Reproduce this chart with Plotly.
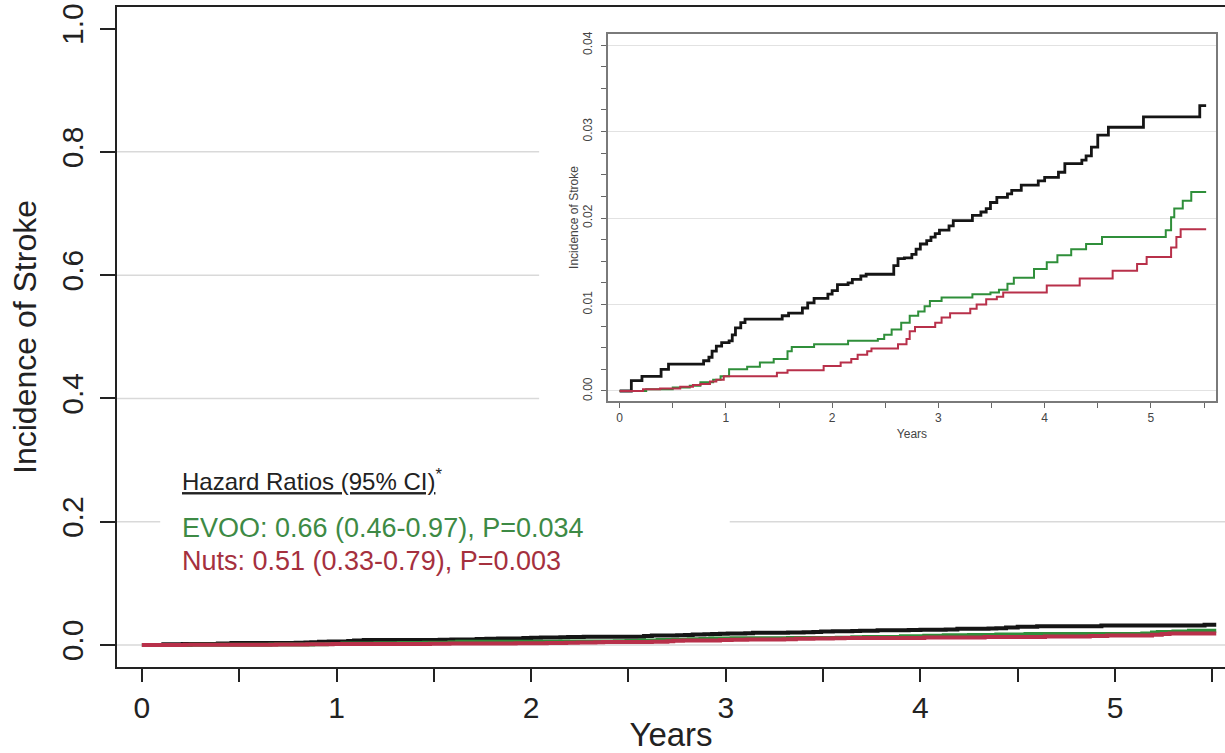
import plotly.graph_objects as go

# ---- data ----
ctrl_t = [0, 0.11, 0.21, 0.39, 0.46, 0.79, 0.84, 0.87, 0.91, 0.96, 1.03, 1.06, 1.09, 1.14, 1.18,
          1.53, 1.59, 1.72, 1.77, 1.83, 1.96, 2.00, 2.05, 2.15, 2.19, 2.27, 2.32, 2.58, 2.62, 2.68,
          2.75, 2.79, 2.83, 2.89, 2.93, 2.97, 3.01, 3.10, 3.14, 3.32, 3.40, 3.45, 3.49, 3.55, 3.65,
          3.69, 3.78, 3.94, 4.00, 4.13, 4.19, 4.35, 4.39, 4.44, 4.50, 4.60, 4.93, 5.46, 5.52]
ctrl_v = [0, 0.0012, 0.0017, 0.0025, 0.0031, 0.0035, 0.0039, 0.0046, 0.0052, 0.0056, 0.0058, 0.0065,
          0.0073, 0.0079, 0.0083, 0.0087, 0.0090, 0.0096, 0.0102, 0.0107, 0.0112, 0.0116, 0.0123,
          0.0125, 0.0129, 0.0133, 0.0135, 0.0145, 0.0153, 0.0154, 0.0158, 0.0164, 0.0170, 0.0174,
          0.0178, 0.0182, 0.0186, 0.0191, 0.0197, 0.0203, 0.0207, 0.0211, 0.0218, 0.0224, 0.0228,
          0.0232, 0.0238, 0.0243, 0.0247, 0.0253, 0.0263, 0.0267, 0.0272, 0.0282, 0.0296, 0.0305,
          0.0317, 0.0330, 0.0330]

evoo_t = [0, 0.25, 0.50, 0.66, 0.76, 0.88, 0.95, 1.03, 1.20, 1.32, 1.45, 1.58, 1.62, 1.83, 2.15,
          2.43, 2.49, 2.56, 2.65, 2.73, 2.81, 2.87, 2.92, 3.03, 3.32, 3.49, 3.57, 3.65, 3.71, 3.90,
          4.02, 4.12, 4.25, 4.39, 4.54, 5.14, 5.19, 5.22, 5.30, 5.38, 5.52]
evoo_v = [0, 0.0002, 0.0004, 0.0006, 0.0010, 0.0013, 0.0017, 0.0025, 0.0028, 0.0033, 0.0037, 0.0046,
          0.0051, 0.0054, 0.0058, 0.0060, 0.0065, 0.0071, 0.0079, 0.0087, 0.0092, 0.0098, 0.0104,
          0.0108, 0.0112, 0.0114, 0.0117, 0.0124, 0.0131, 0.0141, 0.0149, 0.0157, 0.0164, 0.0170,
          0.0178, 0.0186, 0.0201, 0.0211, 0.0220, 0.0230, 0.0230]

nuts_t = [0, 0.22, 0.38, 0.57, 0.69, 0.76, 0.85, 0.91, 0.98, 1.48, 1.58, 1.92, 2.08, 2.18, 2.24,
          2.33, 2.37, 2.62, 2.70, 2.73, 2.78, 2.97, 3.03, 3.11, 3.30, 3.36, 3.45, 3.55, 3.61, 4.02,
          4.33, 4.64, 4.87, 4.96, 5.19, 5.24, 5.28, 5.52]
nuts_v = [0, 0.0002, 0.0003, 0.0005, 0.0007, 0.0008, 0.0011, 0.0013, 0.0017, 0.0021, 0.0024, 0.0029,
          0.0033, 0.0037, 0.0042, 0.0046, 0.0049, 0.0054, 0.0060, 0.0069, 0.0074, 0.0079, 0.0085,
          0.0090, 0.0095, 0.0100, 0.0106, 0.0109, 0.0114, 0.0122, 0.0130, 0.0139, 0.0147, 0.0155,
          0.0166, 0.0178, 0.0187, 0.0187]

main_yticks = [0.0, 0.2, 0.4, 0.6, 0.8, 1.0]
main_grid = [0.0, 0.2, 0.4, 0.6, 0.8]

hr_evoo = "EVOO: 0.66 (0.46-0.97), P=0.034"
hr_nuts = "Nuts: 0.51 (0.33-0.79), P=0.003"

FONT = "Liberation Sans, Arial, Helvetica, sans-serif"
BLACK = "#151515"
GREEN = "#2f8f3a"
RED = "#b8304a"
GRID = "#d9d9d9"

fig = go.Figure()

series = [(ctrl_t, ctrl_v, BLACK), (evoo_t, evoo_v, GREEN), (nuts_t, nuts_v, RED)]

# main panel curves
for t, v, c in series:
    fig.add_trace(go.Scatter(x=t, y=v, mode="lines", line=dict(color=c, width=4, shape="hv"),
                             xaxis="x", yaxis="y", showlegend=False, hoverinfo="skip"))
# inset curves
for t, v, c in series:
    fig.add_trace(go.Scatter(x=t, y=v, mode="lines",
                             line=dict(color=c, width=2.8 if c == BLACK else 2.0, shape="hv"),
                             xaxis="x2", yaxis="y2", showlegend=False, hoverinfo="skip"))

# main-panel gridlines: hidden where the inset and the hazard-ratio block sit
grid_shapes = []
for g in main_grid:
    if g == 0.0:
        spans = [(0.0, 1.0)]
    elif g == 0.2:
        spans = [(0.0, 0.039), (0.553, 1.0)]
    else:
        spans = [(0.0, 0.381)]
    for a, b in spans:
        grid_shapes.append(dict(type="line", xref="x domain", yref="y", x0=a, x1=b, y0=g, y1=g,
                                line=dict(color=GRID, width=1.5), layer="below"))

axis_font = dict(family=FONT, size=30, color="#222")
inset_font = dict(family=FONT, size=12, color="#444")

fig.update_layout(
    width=1225, height=753,
    margin=dict(l=117, r=0, t=7, b=86, autoexpand=False),
    paper_bgcolor="white", plot_bgcolor="rgba(0,0,0,0)",
    font=dict(family=FONT),
    xaxis=dict(range=[-0.128, 5.565], showline=True, linecolor="#222", linewidth=2, mirror=True,
               automargin=False,
               ticks="outside", ticklen=13, tickwidth=2, tickcolor="#222", tick0=0, dtick=1,
               minor=dict(dtick=0.5, tick0=0, ticks="outside", ticklen=13, tickwidth=2, tickcolor="#222"),
               showgrid=False, zeroline=False, tickfont=axis_font,
               title=dict(text="Years", font=dict(family=FONT, size=33, color="#222"), standoff=12)),
    yaxis=dict(range=[-0.0357, 1.035], showline=True, linecolor="#222", linewidth=2,
               automargin=False,
               tickmode="array", tickvals=main_yticks, tickformat=".1f", tickangle=-90,
               ticks="outside", ticklen=15, tickwidth=2, tickcolor="#222", ticklabelstandoff=5,
               showgrid=False, zeroline=False, tickfont=axis_font,
               title=dict(text="Incidence of Stroke", font=dict(family=FONT, size=32, color="#222"),
                          standoff=10)),
    xaxis2=dict(domain=[0.4431, 0.9919], anchor="y2", range=[-0.110, 5.613],
                showline=True, linecolor="#7a7a7a", linewidth=1.5, mirror=True,
                ticks="outside", ticklen=5, tickwidth=1.2, tickcolor="#666", tick0=0, dtick=1,
                minor=dict(dtick=0.5, tick0=0, ticks="outside", ticklen=5, tickwidth=1.2, tickcolor="#666"),
                showgrid=False, zeroline=False, tickfont=inset_font, ticklabelstandoff=0,
                title=dict(text="Years", font=dict(family=FONT, size=12, color="#444"), standoff=5)),
    yaxis2=dict(domain=[0.403, 0.959], anchor="x2", range=[-0.00116, 0.04128],
                showline=True, linecolor="#7a7a7a", linewidth=1.5, mirror=True,
                ticks="outside", ticklen=5, tickwidth=1.2, tickcolor="#666", tick0=0, dtick=0.01,
                tickformat=".2f", tickangle=-90, ticklabelstandoff=4,
                minor=dict(dtick=0.0025, tick0=0, ticks="outside", ticklen=5, tickwidth=1.2,
                           tickcolor="#666", showgrid=False),
                showgrid=True, gridcolor="#e2e2e2", gridwidth=1.2, zeroline=False, tickfont=inset_font,
                title=dict(text="Incidence of Stroke", font=dict(family=FONT, size=12, color="#444"),
                           standoff=0)),
    shapes=grid_shapes,
    annotations=[
        dict(text="<u>Hazard Ratios (95% CI)</u><sup>*</sup>", xref="paper", yref="paper",
             x=0.0569, y=0.2830, xanchor="left", yanchor="middle", showarrow=False,
             font=dict(family=FONT, size=24, color="#222")),
        dict(text=hr_evoo, xref="paper", yref="paper", x=0.0569, y=0.2110, xanchor="left",
             yanchor="middle", showarrow=False, font=dict(family=FONT, size=27, color="#3d8a45")),
        dict(text=hr_nuts, xref="paper", yref="paper", x=0.0569, y=0.1600, xanchor="left",
             yanchor="middle", showarrow=False, font=dict(family=FONT, size=27, color="#a5303e")),
    ],
)

fig.write_html("out.html", config={"displayModeBar": False},
               post_script="document.body.style.margin='0';")
